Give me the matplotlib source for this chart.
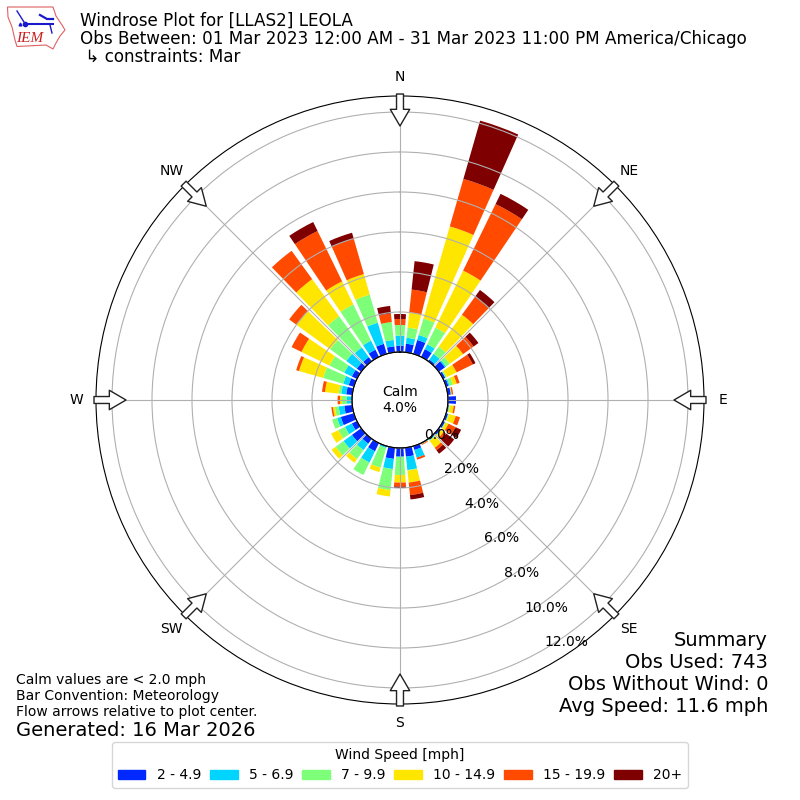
#!/usr/bin/env python3
import numpy as np
import matplotlib
matplotlib.use('Agg')
import matplotlib.pyplot as plt
from matplotlib.patches import Patch, Polygon

# percent of obs per direction bin, N going clockwise every 10 deg
directions = np.arange(0, 360, 10)
labels = ['2 - 4.9', '5 - 6.9', '7 - 9.9', '10 - 14.9', '15 - 19.9', '20+']
colors = ['#0028ff', '#00d4ff', '#7dff7a', '#ffe600', '#ff4a00', '#7f0000']

s2_5 = [.32, .43, .72, .43, .10, .38, .12, .12, .15, .40, .05, .10,
        .10, .10, .05, .03, .20, .45, .43, .56, .03, .45, .30, .57,
        .28, .68, .40, .03, .30, .27, .28, .27, .25, .40, .52, .30]
s5_7 = [.50, .30, .26, .27, .35, .07, .02, .06, .02, 0, .03, .02,
        .02, .02, .05, .01, .40, .67, .02, .51, .07, .63, .40, .52,
        .38, .19, .28, .22, .25, .28, .42, .65, .60, .50, 1.10, .32]
s7_10 = [.53, .51, .86, .93, .45, .23, .06, .17, .01, 0, .02, .03,
         .02, .02, .02, .01, 0, .03, .90, 1.06, 1.02, .69, .55, .49,
         .37, .26, .19, .25, .13, 1.05, .82, 1.00, 1.93, 2.02, 1.46, .90]
s10_15 = [0, .76, 4.79, 3.17, 1.97, .82, .55, .20, .02, 0, .20, .35,
          .16, .16, .43, .01, 0, .60, .38, .32, .23, 0, .23, .25,
          .40, 0, .10, .10, .69, 1.25, 1.56, 2.08, 2.29, 1.28, 1.07, 0]
s15_20 = [.30, 1.15, 2.47, 3.70, 1.10, .65, .90, .15, .07, 0, .08, .22,
          .40, .15, .15, .04, .10, .63, .20, 0, 0, 0, 0, 0,
          0, 0, .08, .12, .15, .15, .55, .45, 1.75, 2.80, 1.83, .43]
s20p = [.25, 1.43, 3.03, .57, .43, .30, .15, 0, 0, 0, 0, 0,
        .30, .50, .22, 0, 0, .22, .07, 0, 0, 0, 0, 0,
        0, 0, 0, 0, 0, 0, 0, 0, 0, .50, .32, .38]
series = [s2_5, s5_7, s7_10, s10_15, s15_20, s20p]

rings = [0, 2, 4, 6, 8, 10, 12]
compass = ['N', 'NE', 'E', 'SE', 'S', 'SW', 'W', 'NW']
compass_deg = [0, 45, 90, 135, 180, 225, 270, 315]

title = ('Windrose Plot for [LLAS2] LEOLA\n'
         'Obs Between: 01 Mar 2023 12:00 AM - 31 Mar 2023 11:00 PM America/Chicago\n'
         ' \u21b3 constraints: Mar')
summary = ['Summary', 'Obs Used: 743', 'Obs Without Wind: 0', 'Avg Speed: 11.6 mph']
notes = ['Calm values are < 2.0 mph', 'Bar Convention: Meteorology',
         'Flow arrows relative to plot center.']


def px(x, y):
    return x / 800, 1 - y / 800


fig = plt.figure(figsize=(8, 8), dpi=100)
ax = fig.add_axes([96 / 800, 96 / 800, 608 / 800, 608 / 800], projection='polar')
ax.set_theta_zero_location('N')
ax.set_theta_direction(-1)
ax.set_rorigin(-2.4)
ax.set_ylim(0, 12.8)

theta = np.deg2rad(directions)
width = np.deg2rad(8)
bottom = np.zeros(len(directions))
for vals, c in zip(series, colors):
    vals = np.array(vals)
    ax.bar(theta, vals, width=width, bottom=bottom, color=c, linewidth=0)
    bottom += vals

ax.set_axisbelow(False)
ax.set_thetagrids(compass_deg, compass, fontsize=10)
ax.tick_params(axis='x', pad=3.5)
ax.set_rgrids(rings, [f'{r:.1f}%' for r in rings], angle=150, fontsize=10)
ax.grid(True, color='#b0b0b0', lw=0.8)

# black ring round the calm hole
ring_t = np.linspace(0, 2 * np.pi, 200)
ax.plot(ring_t, np.zeros_like(ring_t), color='k', lw=0.8, zorder=4, clip_on=False)

# flow arrows
for d in compass_deg:
    t = np.deg2rad(d)
    ax.annotate('', xy=(t, 11.3), xytext=(t, 12.9), annotation_clip=False, zorder=6,
                arrowprops=dict(facecolor='white', edgecolor='#222222', lw=1,
                                width=5, headwidth=14, headlength=12, shrink=0))

fig.text(0.5, 0.5, 'Calm\n4.0%', ha='center', va='center', fontsize=10)

x, y = px(80, 39)
fig.text(x, y, title, fontsize=12.05, va='center', linespacing=1.0)

for i, s in enumerate(summary):
    x, y = px(768, 640 + i * 22)
    fig.text(x, y, s, fontsize=14, ha='right', va='center')
for i, s in enumerate(notes):
    x, y = px(16, 680 + i * 16)
    fig.text(x, y, s, fontsize=10, va='center')
x, y = px(16, 730)
fig.text(x, y, 'Generated: 16 Mar 2026', fontsize=14, va='center')

handles = [Patch(color=c, label=l) for c, l in zip(colors, labels)]
fig.legend(handles=handles, title='Wind Speed [mph]', ncol=6, loc='center',
           bbox_to_anchor=px(400, 765), fontsize=10, title_fontsize=10,
           columnspacing=0.64)

# IEM logo
logo = fig.add_axes([0, 720 / 800, 80 / 800, 80 / 800])
logo.set_xlim(0, 80)
logo.set_ylim(80, 0)
logo.axis('off')
outline = [(7.5, 7), (53, 7), (56, 16), (62, 25), (65, 30), (60, 36), (56, 43),
           (53, 49), (46, 45), (17, 46.5), (15, 40), (12, 27), (8, 17)]
logo.add_patch(Polygon(outline, closed=True, fill=False, edgecolor='#e06060', lw=0.8))
logo.plot([25, 53], [23.5, 23.5], color='#1a1acc', lw=1.5)
logo.plot([25], [23.5], 'o', color='#1a1acc', ms=3)
logo.plot([17, 24], [11, 22], color='#1a1acc', lw=1)
logo.plot([40, 47, 53], [15, 19, 19], color='#1a1acc', lw=1.6)
logo.plot([50, 52], [25, 33], color='#1a1acc', lw=1)
logo.plot([20], [24], '^', color='#1a1acc', ms=2)
logo.text(16, 39, 'IEM', color='#cc2020', fontsize=11, family='Liberation Serif',
          style='italic', va='center')

fig.savefig('out.png', dpi=100)
